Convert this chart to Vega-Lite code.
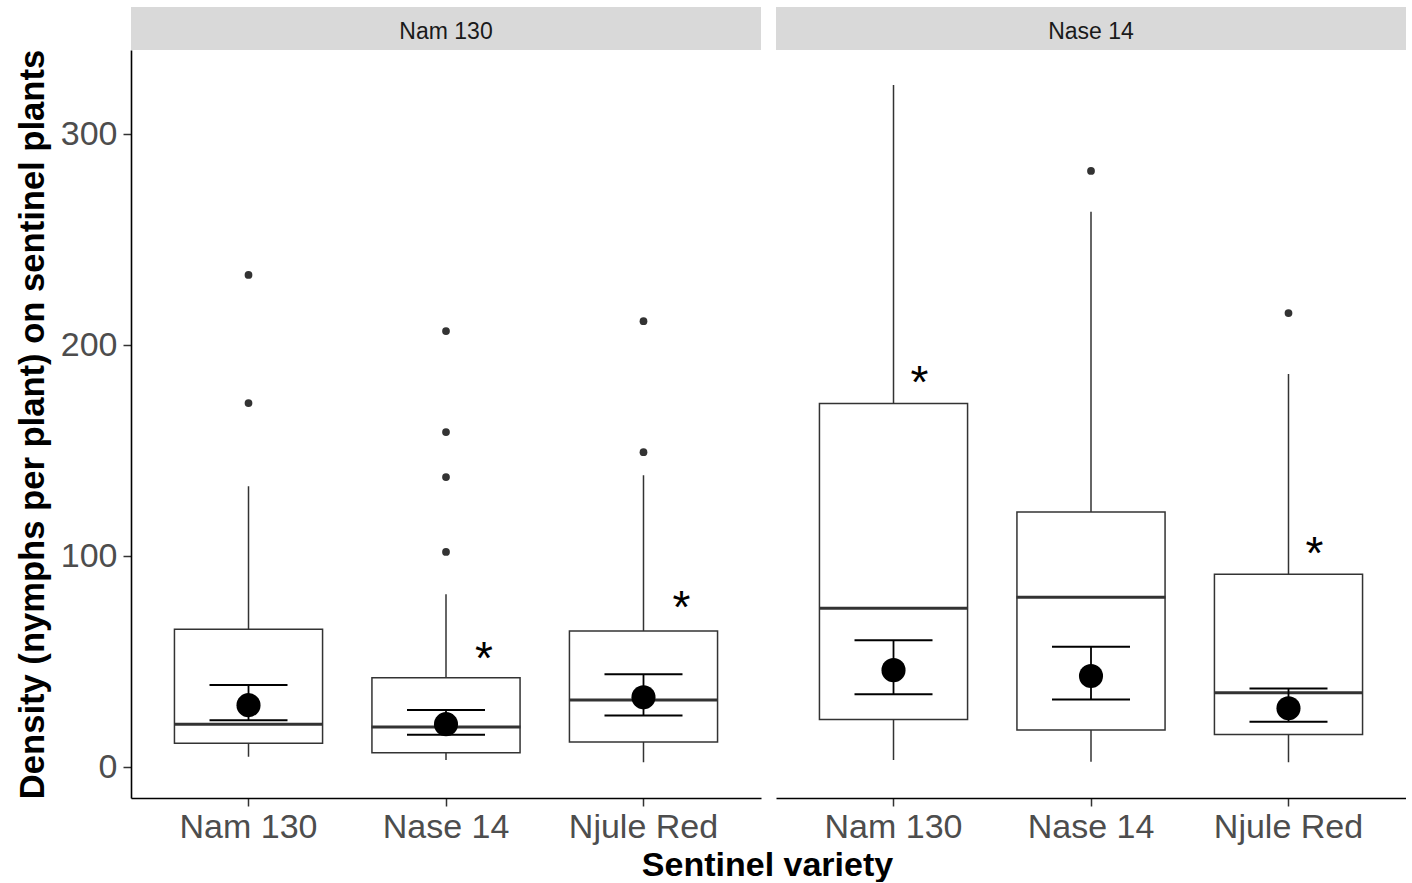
{
  "$schema": "https://vega.github.io/schema/vega-lite/v6.json",
  "padding": {"left": 15, "top": 7, "right": 0, "bottom": 0},
  "background": "white",
  "config": {
    "font": "Liberation Sans",
    "view": {"stroke": null},
    "tick": {"opacity": 1},
    "axis": {"grid": false, "domainColor": "black", "domainWidth": 1.6, "tickColor": "#333333", "tickWidth": 1.5, "tickSize": 8, "labelColor": "#4d4d4d", "labelFontSize": 34, "labelFont": "Liberation Sans", "titleFont": "Liberation Sans", "titleFontSize": 34, "titleFontWeight": "bold", "titleColor": "black"}
  },
  "datasets": {
    "boxes": [
      {"panel": "Nam 130", "variety": "Nam 130", "lo": 5.0, "q1": 11.4, "med": 20.4, "q3": 65.5, "hi": 133.3, "mean": 29.5, "elo": 22.4, "ehi": 39.0},
      {"panel": "Nam 130", "variety": "Nase 14", "lo": 3.5, "q1": 6.9, "med": 19.2, "q3": 42.5, "hi": 82.1, "mean": 20.5, "elo": 15.5, "ehi": 27.2},
      {"panel": "Nam 130", "variety": "Njule Red", "lo": 2.4, "q1": 12.0, "med": 31.9, "q3": 64.7, "hi": 138.5, "mean": 33.2, "elo": 24.6, "ehi": 44.2},
      {"panel": "Nase 14", "variety": "Nam 130", "lo": 3.5, "q1": 22.7, "med": 75.4, "q3": 172.5, "hi": 323.4, "mean": 46.1, "elo": 34.7, "ehi": 60.3},
      {"panel": "Nase 14", "variety": "Nase 14", "lo": 2.7, "q1": 17.7, "med": 80.6, "q3": 121.1, "hi": 263.3, "mean": 43.3, "elo": 32.2, "ehi": 57.2},
      {"panel": "Nase 14", "variety": "Njule Red", "lo": 2.4, "q1": 15.6, "med": 35.4, "q3": 91.5, "hi": 186.4, "mean": 28.0, "elo": 21.6, "ehi": 37.4}
    ],
    "outliers": [
      {"panel": "Nam 130", "variety": "Nam 130", "value": 233.4},
      {"panel": "Nam 130", "variety": "Nam 130", "value": 172.7},
      {"panel": "Nam 130", "variety": "Nase 14", "value": 206.8},
      {"panel": "Nam 130", "variety": "Nase 14", "value": 158.9},
      {"panel": "Nam 130", "variety": "Nase 14", "value": 137.6},
      {"panel": "Nam 130", "variety": "Nase 14", "value": 102.1},
      {"panel": "Nam 130", "variety": "Njule Red", "value": 211.5},
      {"panel": "Nam 130", "variety": "Njule Red", "value": 149.4},
      {"panel": "Nase 14", "variety": "Nase 14", "value": 282.7},
      {"panel": "Nase 14", "variety": "Njule Red", "value": 215.3}
    ],
    "stars": [
      {"panel": "Nam 130", "variety": "Nase 14", "value": 54.8, "label": "*"},
      {"panel": "Nam 130", "variety": "Njule Red", "value": 79.0, "label": "*"},
      {"panel": "Nase 14", "variety": "Nam 130", "value": 185.5, "label": "*"},
      {"panel": "Nase 14", "variety": "Njule Red", "value": 104.5, "label": "*"}
    ],
    "strips": [
      {"panel": "Nam 130"},
      {"panel": "Nase 14"}
    ]
  },
  "columns": 2,
  "bounds": "flush",
  "spacing": {"row": 0, "column": 15},
  "concat": [
    {
      "width": 630, "height": 43,
      "view": {"fill": "#d9d9d9", "stroke": null},
      "data": {"name": "strips"},
      "transform": [{"filter": "datum.panel === 'Nam 130'"}],
      "mark": {"type": "text", "fontSize": 23, "color": "#1a1a1a", "baseline": "middle", "dy": 3},
      "encoding": {"text": {"field": "panel"}}
    },
    {
      "width": 630, "height": 43,
      "view": {"fill": "#d9d9d9", "stroke": null},
      "data": {"name": "strips"},
      "transform": [{"filter": "datum.panel === 'Nase 14'"}],
      "mark": {"type": "text", "fontSize": 23, "color": "#1a1a1a", "baseline": "middle", "dy": 3},
      "encoding": {"text": {"field": "panel"}}
    },
    {
      "width": 630, "height": 748,
      "data": {"name": "boxes"},
      "transform": [{"filter": "datum.panel === 'Nam 130'"}],
      "encoding": {
        "x": {"field": "variety", "type": "nominal", "sort": ["Nam 130", "Nase 14", "Njule Red"],
              "scale": {"domain": ["Nam 130", "Nase 14", "Njule Red"], "paddingInner": 0.25, "paddingOuter": 0.22},
              "axis": {"title": "Sentinel variety", "labelAngle": 0, "labelPadding": 4, "titlePadding": 4, "titleX": 636, "titleAlign": "center", "titleAnchor": null}}
      },
      "layer": [
        {"mark": {"type": "rule", "color": "#333333", "strokeWidth": 1.5},
         "encoding": {"y": {"field": "lo", "type": "quantitative", "scale": {"domain": [-14.5, 340], "nice": false, "zero": false},
                            "axis": {"title": "Density (nymphs per plant) on sentinel plants", "titleFontSize": 34.6, "values": [0, 100, 200, 300], "labelPadding": 6, "titlePadding": 10}},
                      "y2": {"field": "hi"}}},
        {"mark": {"type": "bar", "fill": "white", "stroke": "#333333", "strokeWidth": 1.5},
         "encoding": {"y": {"field": "q1", "type": "quantitative", "scale": {"domain": [-14.5, 340], "nice": false, "zero": false}, "axis": {"title": "Density (nymphs per plant) on sentinel plants", "titleFontSize": 34.6, "values": [0, 100, 200, 300], "labelPadding": 6, "titlePadding": 10}},
                      "y2": {"field": "q3"}}},
        {"mark": {"type": "tick", "color": "#333333", "thickness": 3, "size": 149, "opacity": 1},
         "encoding": {"y": {"field": "med", "type": "quantitative", "scale": {"domain": [-14.5, 340], "nice": false, "zero": false}, "axis": {"title": "Density (nymphs per plant) on sentinel plants", "titleFontSize": 34.6, "values": [0, 100, 200, 300], "labelPadding": 6, "titlePadding": 10}}}},
        {"data": {"name": "outliers"},
         "transform": [{"filter": "datum.panel === 'Nam 130'"}],
         "mark": {"type": "circle", "color": "#333333", "size": 60, "opacity": 1},
         "encoding": {"x": {"field": "variety", "type": "nominal"},
                      "y": {"field": "value", "type": "quantitative", "scale": {"domain": [-14.5, 340], "nice": false, "zero": false}, "axis": {"title": "Density (nymphs per plant) on sentinel plants", "titleFontSize": 34.6, "values": [0, 100, 200, 300], "labelPadding": 6, "titlePadding": 10}}}},
        {"mark": {"type": "rule", "color": "black", "strokeWidth": 1.8},
         "encoding": {"y": {"field": "elo", "type": "quantitative", "scale": {"domain": [-14.5, 340], "nice": false, "zero": false}, "axis": {"title": "Density (nymphs per plant) on sentinel plants", "titleFontSize": 34.6, "values": [0, 100, 200, 300], "labelPadding": 6, "titlePadding": 10}},
                      "y2": {"field": "ehi"}}},
        {"mark": {"type": "tick", "color": "black", "thickness": 2, "size": 78, "opacity": 1},
         "encoding": {"y": {"field": "elo", "type": "quantitative", "scale": {"domain": [-14.5, 340], "nice": false, "zero": false}, "axis": {"title": "Density (nymphs per plant) on sentinel plants", "titleFontSize": 34.6, "values": [0, 100, 200, 300], "labelPadding": 6, "titlePadding": 10}}}},
        {"mark": {"type": "tick", "color": "black", "thickness": 2, "size": 78, "opacity": 1},
         "encoding": {"y": {"field": "ehi", "type": "quantitative", "scale": {"domain": [-14.5, 340], "nice": false, "zero": false}, "axis": {"title": "Density (nymphs per plant) on sentinel plants", "titleFontSize": 34.6, "values": [0, 100, 200, 300], "labelPadding": 6, "titlePadding": 10}}}},
        {"mark": {"type": "circle", "color": "black", "size": 580, "opacity": 1},
         "encoding": {"y": {"field": "mean", "type": "quantitative", "scale": {"domain": [-14.5, 340], "nice": false, "zero": false}, "axis": {"title": "Density (nymphs per plant) on sentinel plants", "titleFontSize": 34.6, "values": [0, 100, 200, 300], "labelPadding": 6, "titlePadding": 10}}}},
        {"data": {"name": "stars"},
         "transform": [{"filter": "datum.panel === 'Nam 130'"}],
         "mark": {"type": "text", "fontSize": 46, "color": "black", "baseline": "middle", "dx": 38, "dy": 8},
         "encoding": {"x": {"field": "variety", "type": "nominal"},
                      "y": {"field": "value", "type": "quantitative", "scale": {"domain": [-14.5, 340], "nice": false, "zero": false}, "axis": {"title": "Density (nymphs per plant) on sentinel plants", "titleFontSize": 34.6, "values": [0, 100, 200, 300], "labelPadding": 6, "titlePadding": 10}},
                      "text": {"field": "label"}}}
      ]
    },
    {
      "width": 630, "height": 748,
      "data": {"name": "boxes"},
      "transform": [{"filter": "datum.panel === 'Nase 14'"}],
      "encoding": {
        "x": {"field": "variety", "type": "nominal", "sort": ["Nam 130", "Nase 14", "Njule Red"],
              "scale": {"domain": ["Nam 130", "Nase 14", "Njule Red"], "paddingInner": 0.25, "paddingOuter": 0.22},
              "axis": {"title": null, "labelAngle": 0, "labelPadding": 4}}
      },
      "layer": [
        {"mark": {"type": "rule", "color": "#333333", "strokeWidth": 1.5},
         "encoding": {"y": {"field": "lo", "type": "quantitative", "scale": {"domain": [-14.5, 340], "nice": false, "zero": false}, "axis": null},
                      "y2": {"field": "hi"}}},
        {"mark": {"type": "bar", "fill": "white", "stroke": "#333333", "strokeWidth": 1.5},
         "encoding": {"y": {"field": "q1", "type": "quantitative", "scale": {"domain": [-14.5, 340], "nice": false, "zero": false}, "axis": null},
                      "y2": {"field": "q3"}}},
        {"mark": {"type": "tick", "color": "#333333", "thickness": 3, "size": 149, "opacity": 1},
         "encoding": {"y": {"field": "med", "type": "quantitative", "scale": {"domain": [-14.5, 340], "nice": false, "zero": false}, "axis": null}}},
        {"data": {"name": "outliers"},
         "transform": [{"filter": "datum.panel === 'Nase 14'"}],
         "mark": {"type": "circle", "color": "#333333", "size": 60, "opacity": 1},
         "encoding": {"x": {"field": "variety", "type": "nominal"},
                      "y": {"field": "value", "type": "quantitative", "scale": {"domain": [-14.5, 340], "nice": false, "zero": false}, "axis": null}}},
        {"mark": {"type": "rule", "color": "black", "strokeWidth": 1.8},
         "encoding": {"y": {"field": "elo", "type": "quantitative", "scale": {"domain": [-14.5, 340], "nice": false, "zero": false}, "axis": null},
                      "y2": {"field": "ehi"}}},
        {"mark": {"type": "tick", "color": "black", "thickness": 2, "size": 78, "opacity": 1},
         "encoding": {"y": {"field": "elo", "type": "quantitative", "scale": {"domain": [-14.5, 340], "nice": false, "zero": false}, "axis": null}}},
        {"mark": {"type": "tick", "color": "black", "thickness": 2, "size": 78, "opacity": 1},
         "encoding": {"y": {"field": "ehi", "type": "quantitative", "scale": {"domain": [-14.5, 340], "nice": false, "zero": false}, "axis": null}}},
        {"mark": {"type": "circle", "color": "black", "size": 580, "opacity": 1},
         "encoding": {"y": {"field": "mean", "type": "quantitative", "scale": {"domain": [-14.5, 340], "nice": false, "zero": false}, "axis": null}}},
        {"data": {"name": "stars"},
         "transform": [{"filter": "datum.panel === 'Nase 14'"}],
         "mark": {"type": "text", "fontSize": 46, "color": "black", "baseline": "middle", "dx": 26, "dy": 8},
         "encoding": {"x": {"field": "variety", "type": "nominal"},
                      "y": {"field": "value", "type": "quantitative", "scale": {"domain": [-14.5, 340], "nice": false, "zero": false}, "axis": null},
                      "text": {"field": "label"}}}
      ]
    }
  ]
}
